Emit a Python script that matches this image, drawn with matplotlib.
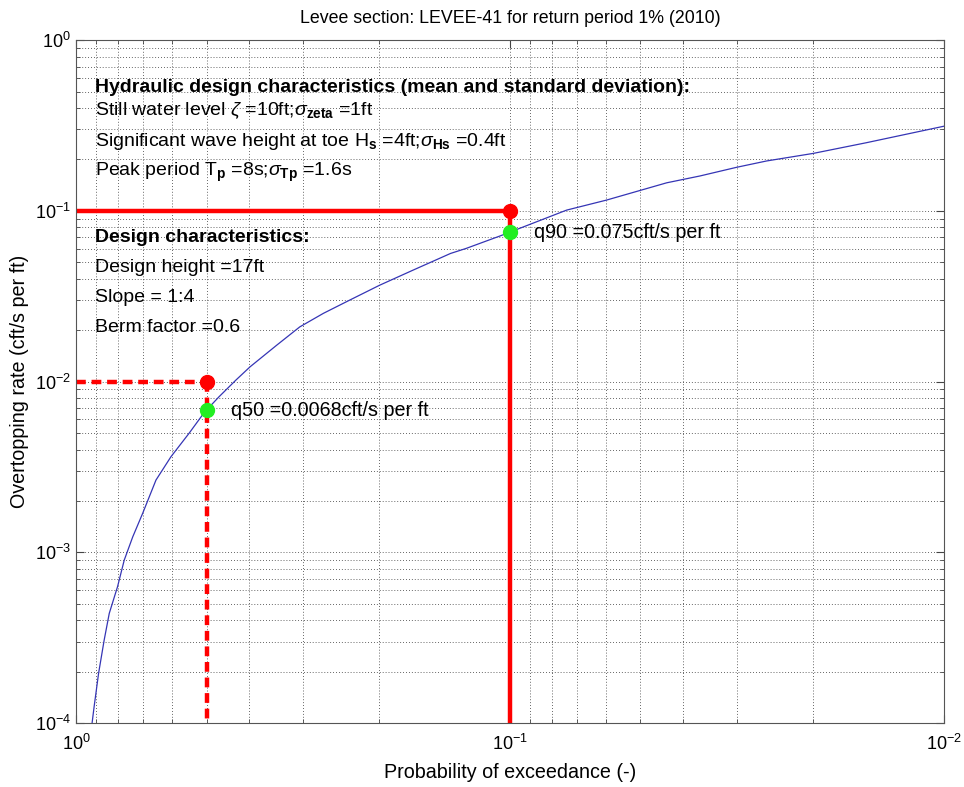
import numpy as np
import matplotlib
matplotlib.use('Agg')
import matplotlib.pyplot as plt

plt.rcParams['font.family'] = ['Liberation Sans', 'DejaVu Sans']
plt.rcParams['mathtext.fontset'] = 'custom'
plt.rcParams['mathtext.rm'] = 'Liberation Sans'
plt.rcParams['mathtext.it'] = 'Liberation Sans:italic'
plt.rcParams['mathtext.bf'] = 'Liberation Sans:bold'
plt.rcParams['axes.unicode_minus'] = False

# curve: probability of exceedance vs overtopping rate
p_exc = [0.918, 0.908, 0.887, 0.861, 0.838, 0.802, 0.774, 0.740, 0.702, 0.654,
         0.604, 0.548, 0.506, 0.468, 0.428, 0.397, 0.345, 0.305, 0.269, 0.234,
         0.1995, 0.167, 0.137, 0.126, 0.105, 0.074, 0.0599, 0.0435, 0.0365, 0.0300,
         0.0256, 0.02, 0.0151, 0.01]
q_rate = [1e-4, 1.25e-4, 1.95e-4, 3.06e-4, 4.39e-4, 6.29e-4, 9.0e-4, 1.23e-3, 1.69e-3, 2.65e-3,
          3.63e-3, 5.0e-3, 6.6e-3, 8.15e-3, 0.0102, 0.0122, 0.0163, 0.0209, 0.0251, 0.030,
          0.0367, 0.045, 0.0563, 0.0603, 0.0715, 0.101, 0.1156, 0.146, 0.16, 0.18,
          0.196, 0.217, 0.2505, 0.313]

# design points
q90_p, q90_target, q90 = 0.1, 0.1, 0.075
q50_p, q50_target, q50 = 0.5, 0.01, 0.0068

fig = plt.figure(figsize=(9.64, 7.87), dpi=100)
ax = fig.add_axes([0.0788, 0.0813, 0.9002, 0.8677])

ax.plot(p_exc, q_rate, color='#3535b5', lw=0.9)

ax.plot([1, q90_p], [q90_target, q90_target], color='red', lw=3.2, solid_capstyle='butt')
ax.plot([q90_p, q90_p], [q90_target, 1e-4], color='red', lw=3.2, solid_capstyle='butt')
ax.plot([1, q50_p], [q50_target, q50_target], color='red', lw=3.2, ls=(0, (2.2, 1.3)))
ax.plot([q50_p, q50_p], [q50_target, 1e-4], color='red', lw=3.2, ls=(0, (2.2, 1.3)))

ax.plot([q90_p, q50_p], [q90_target, q50_target], 'o', color='red', ms=10, mec='red')
ax.plot([q90_p, q50_p], [q90, q50], 'o', color='#22ee22', ms=10, mec='#22ee22')

ax.text(0.088, q90, 'q90 =0.075cft/s per ft', fontsize=14.2, va='center', ha='left')
ax.text(0.44, q50, 'q50 =0.0068cft/s per ft', fontsize=14.2, va='center', ha='left')

ax.set_xscale('log')
ax.set_yscale('log')
ax.set_xlim(1, 0.01)
ax.set_ylim(1e-4, 1)
ax.grid(True, which='both', ls=(0, (1, 2.5)), color='#333333', lw=0.6)
ax.tick_params(which='both', direction='in', top=True, right=True, labelsize=13, colors='#444444', labelcolor='black')
ax.tick_params(which='major', length=6)
ax.tick_params(which='minor', length=3)
for s in ax.spines.values():
    s.set_color('#555555')
ax.xaxis.set_tick_params(pad=8)

ax.set_title('Levee section: LEVEE-41 for return period 1% (2010)', fontsize=12.8, pad=12)
ax.set_xlabel('Probability of exceedance (-)', fontsize=14.2, labelpad=6)
ax.set_ylabel('Overtopping rate (cft/s per ft)', fontsize=14.2, labelpad=4)

lines = [
    (88, 'Hydraulic design characteristics (mean and standard deviation):', 'bold'),
    (111, r'Still water level $\zeta$ =10ft;$\sigma_{\mathbf{zeta}}$ =1ft', 'normal'),
    (141, r'Significant wave height at toe H$_{\mathbf{s}}$ =4ft;$\sigma_{\mathbf{Hs}}$ =0.4ft', 'normal'),
    (172, r'Peak period T$_{\mathbf{p}}$ =8s;$\sigma_{\mathbf{Tp}}$ =1.6s', 'normal'),
    (238, 'Design characteristics:', 'bold'),
    (268, 'Design height =17ft', 'normal'),
    (298, 'Slope = 1:4', 'normal'),
    (328, 'Berm factor =0.6', 'normal'),
]
for ypix, txt, w in lines:
    fig.text(95 / 964, 1 - ypix / 787, txt, fontsize=14.0, fontweight=w, va='center', ha='left')

fig.savefig('out.png', dpi=100)
